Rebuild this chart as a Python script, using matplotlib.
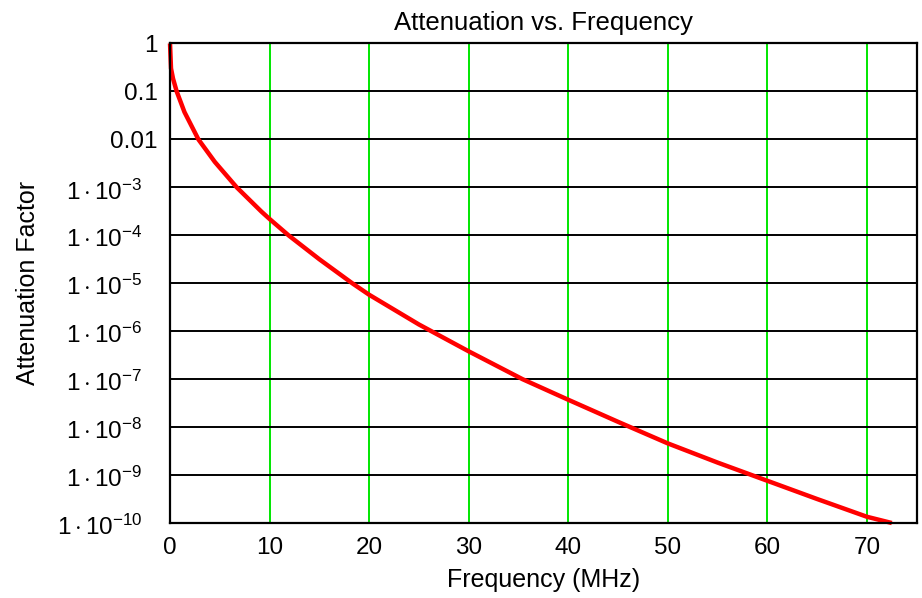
import matplotlib.pyplot as plt
from matplotlib.transforms import ScaledTranslation

plt.rcParams['font.family'] = ['Liberation Sans', 'DejaVu Sans']
plt.rcParams['mathtext.fontset'] = 'custom'
plt.rcParams['mathtext.rm'] = 'Liberation Sans'
plt.rcParams['mathtext.it'] = 'Liberation Sans'

# values (frequency in MHz, log10 of attenuation)
freq_mhz = [0.0, 0.1, 0.3, 0.67, 1.45, 2.85, 4.5, 6.7, 9.2, 10.0, 11.9, 15.0,
            18.3, 20.0, 25.0, 30.0, 35.4, 40.0, 45.0, 50.0, 55.0, 60.0, 65.0,
            70.0, 72.5]
log_atten = [0.0, -0.52, -0.73, -1.0, -1.43, -2.0, -2.47, -3.0, -3.51, -3.66,
             -4.0, -4.5, -5.0, -5.24, -5.86, -6.42, -7.0, -7.43, -7.89, -8.34,
             -8.74, -9.12, -9.5, -9.87, -10.0]

y_ticks = [10.0 ** -k for k in range(0, 11)]
y_tick_labels = ['1', '0.1', '0.01'] + [r'$1\cdot10^{-%d}$' % k for k in range(3, 11)]
x_ticks = [0, 10, 20, 30, 40, 50, 60, 70]

atten = [10.0 ** v for v in log_atten]

fig = plt.figure(figsize=(9.22, 5.98), dpi=100)
ax = fig.add_axes([0.1844, 0.1254, 0.8099, 0.8019])

# grid: green verticals, black horizontals
for xv in x_ticks[1:]:
    ax.axvline(xv, color='#00e600', lw=1.4, zorder=1)
for yv in y_ticks[1:-1]:
    ax.axhline(yv, color='black', lw=1.4, zorder=1)

ax.plot(freq_mhz, atten, color='#ff0000', lw=3.2, zorder=3, clip_on=False,
        solid_capstyle='butt', solid_joinstyle='round')

ax.set_yscale('log')
ax.set_xlim(0, 75)
ax.set_ylim(1e-10, 1)
ax.set_yticks(y_ticks)
ax.set_yticklabels(y_tick_labels)
ax.minorticks_off()
ax.set_xticks(x_ticks)
ax.tick_params(length=0, labelsize=17.5)
ax.tick_params(axis='x', pad=10)
ax.tick_params(axis='y', pad=9)
# exponent labels sit a little further left than the plain numbers
shift = ScaledTranslation(-15 / 100, -2 / 100, fig.dpi_scale_trans)
for lab in ax.get_yticklabels()[3:]:
    lab.set_transform(lab.get_transform() + shift)

for s in ax.spines.values():
    s.set_linewidth(1.6)
    s.set_zorder(4)

ax.set_title('Attenuation vs. Frequency', fontsize=18.5, pad=10)
ax.set_xlabel('Frequency (MHz)', fontsize=18)
ax.set_ylabel('Attenuation Factor', fontsize=18)
ax.xaxis.set_label_coords(0.5, -0.094)
ax.yaxis.set_label_coords(-0.174, 0.5)

fig.savefig('out.png', dpi=100)
